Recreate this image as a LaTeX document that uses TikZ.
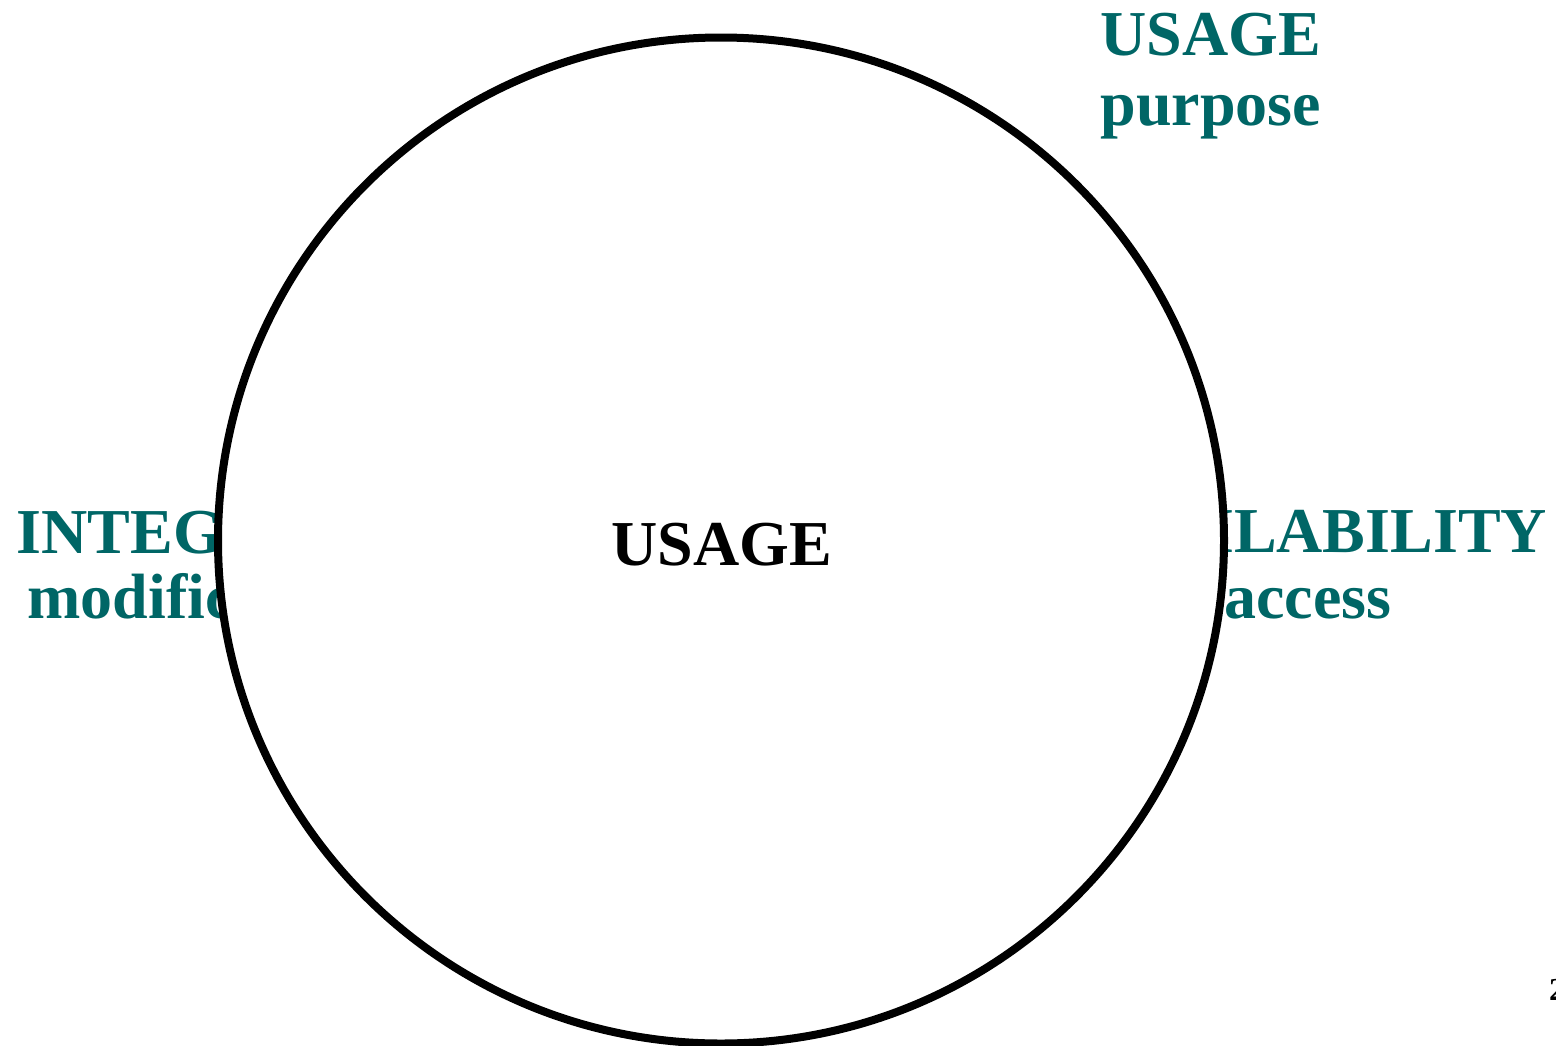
\documentclass[tikz,border=0pt]{standalone}
\usepackage{fontspec}
\setmainfont{Liberation Serif}
\definecolor{labelteal}{RGB}{0,102,102}
\begin{document}
\begin{tikzpicture}[x=1pt,y=-1pt,
  lbl/.style={text=labelteal,font=\fontsize{64}{70}\selectfont\bfseries,inner sep=0pt,anchor=base},
  corelbl/.style={text=black,font=\fontsize{64}{70}\selectfont\bfseries,inner sep=0pt,anchor=base},
  ring/.style={circle,draw=black,line width=8pt,fill=white,inner sep=0pt,minimum size=1006pt}]
\useasboundingbox (0,0) rectangle (1556,1045);
\clip (0,0) rectangle (1556,1045);
% outer labels (partly hidden behind the ring)
\node[lbl] (usageT) at (1211,55) {USAGE};
\node[lbl] (usageS) at (1211,125) {purpose};
\node[lbl] (integT) at (200,553) {INTEGRITY};
\node[lbl] (integS) at (200,618) {modification};
\node[lbl] (availT) at (1317,552) {AVAILABILITY};
\node[lbl] (availS) at (1308,618) {access};
% central ring
\node[ring] (ringc) at (721,540.5) {};
\node[corelbl] (core) at (721.5,565) {USAGE};
% page number at the edge
\node[inner sep=0pt,anchor=base west,font=\fontsize{32}{36}\selectfont\bfseries] (pagenum) at (1549,1000) {2};
\end{tikzpicture}
\end{document}
